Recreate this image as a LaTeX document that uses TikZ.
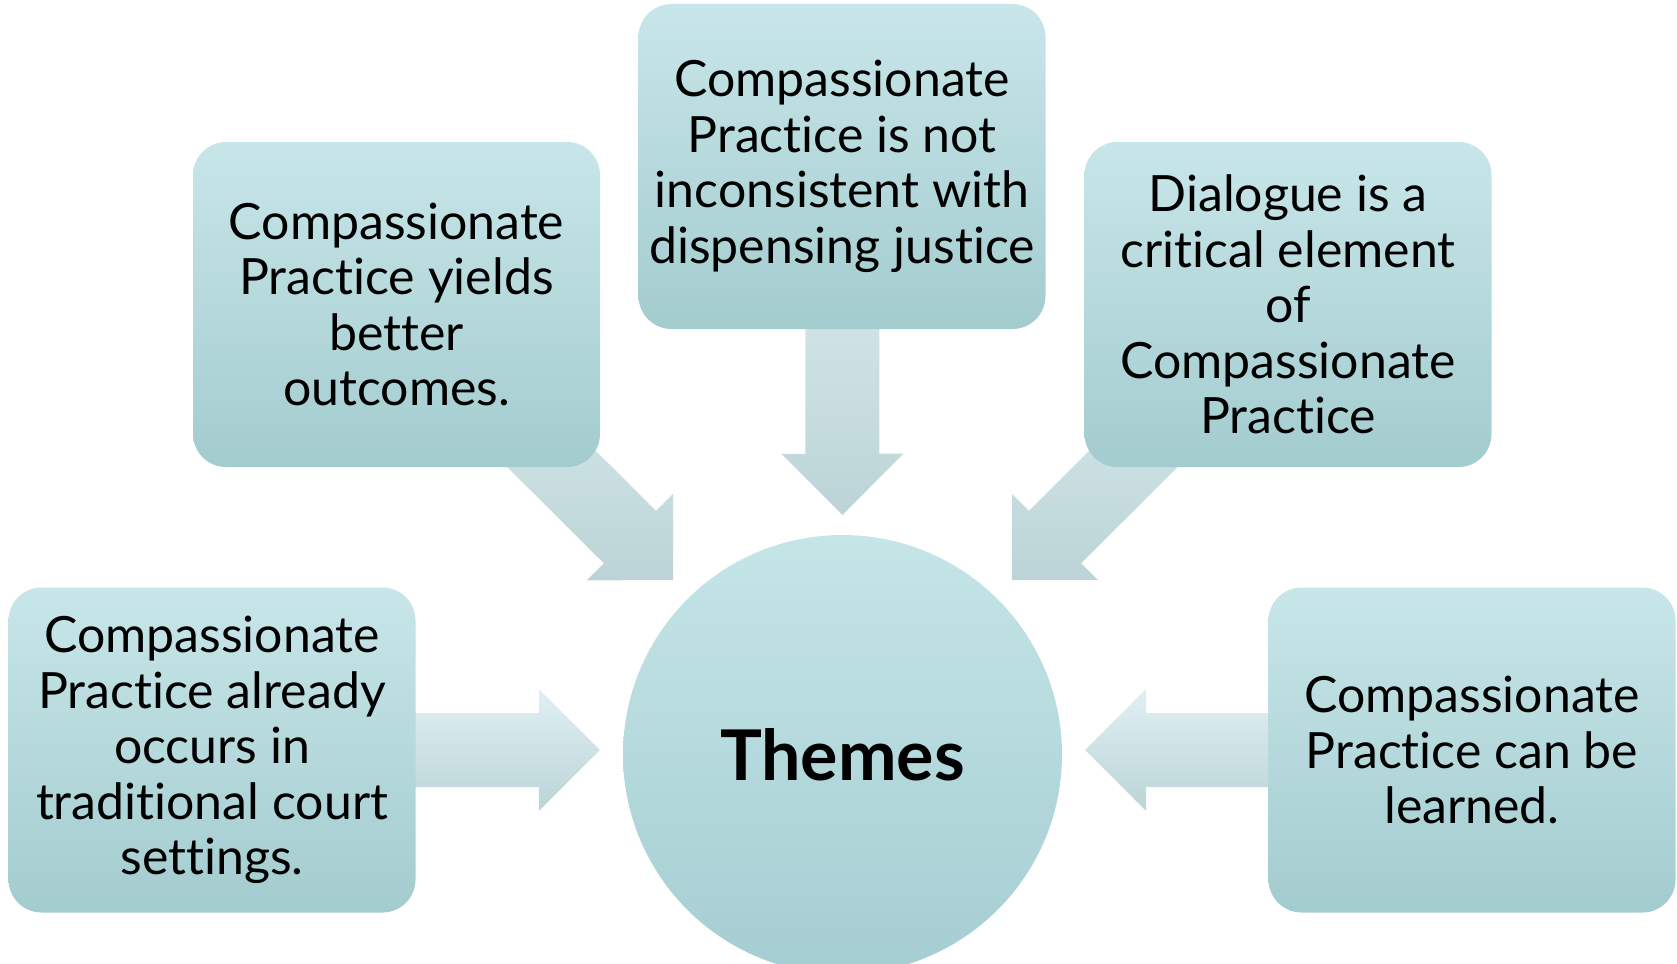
\documentclass[tikz,border=0pt]{standalone}
\usepackage{fontspec}
\setmainfont{Lato}[Ligatures={NoCommon}]
\usepackage{xcolor}
\usetikzlibrary{positioning, calc, backgrounds}
\definecolor{boxtop}{HTML}{C8E6E9}
\definecolor{boxbot}{HTML}{A3CCCF}
\definecolor{hubtop}{HTML}{C5E5E7}
\definecolor{hubbot}{HTML}{A5CED2}
\definecolor{arrtop}{HTML}{DFF0F3}
\definecolor{arrbot}{HTML}{BCD4D7}
\tikzstyle{theme} = [rectangle, rounded corners=33pt, minimum width=407pt, minimum height=325pt, inner sep=0pt, align=center, top color=boxtop, bottom color=boxbot, font=\fontsize{50}{55.6}\selectfont]
\tikzstyle{hub} = [circle, minimum size=439pt, inner sep=0pt, top color=hubtop, bottom color=hubbot, font=\bfseries\fontsize{70}{76}\selectfont]
\tikzstyle{bigarrow} = [top color=arrtop, bottom color=arrbot]

% block arrow from a box (tail) to a tip coordinate
\newcommand{\fatarrow}[2]{%
  \shade[bigarrow] let \p1=($(#2)-(#1)$), \n1={atan2(\y1,\x1)}, \n2={veclen(\x1,\y1)} in
    {[shift={(#2)}, rotate=\n1] (0,0) -- (-61,61) -- (-61,37) -- (-\n2,37) -- (-\n2,-37) -- (-61,-37) -- (-61,-61) -- cycle};
}

\begin{document}
\begin{tikzpicture}[x=1pt, y=-1pt]
    \path[use as bounding box, clip] (0,0) rectangle (1677,963);
    \node (themes) [hub] at (842.5,754.5) {Themes};
    \node (top) [theme] at (842,166.5) {Compassionate\\Practice is not\\inconsistent with\\dispensing justice};
    \node (lefttop) [theme] at (396.5,304.5) {Compassionate\\Practice yields\\better\\outcomes.};
    \node (righttop) [theme] at (1288,304.5) {Dialogue is a\\critical element\\of\\Compassionate\\Practice};
    \node (leftbot) [theme] at (212,750) {Compassionate\\Practice already\\occurs in\\traditional court\\settings.};
    \node (rightbot) [theme] at (1472,750) {Compassionate\\Practice can be\\learned.};
    \coordinate (tipN) at ($(themes.north)+(0,-20)$);
    \coordinate (tipNW) at ($(themes.north west)+(-14,-19)$);
    \coordinate (tipNE) at ($(themes.north east)+(14,-19)$);
    \coordinate (tipW) at ($(leftbot.east -| themes.west)+(-23,0)$);
    \coordinate (tipE) at ($(rightbot.west -| themes.east)+(23,0)$);
    \begin{scope}[on background layer]
        \fatarrow{top}{tipN}
        \fatarrow{lefttop}{tipNW}
        \fatarrow{righttop}{tipNE}
        \fatarrow{leftbot}{tipW}
        \fatarrow{rightbot}{tipE}
    \end{scope}
\end{tikzpicture}
\end{document}
